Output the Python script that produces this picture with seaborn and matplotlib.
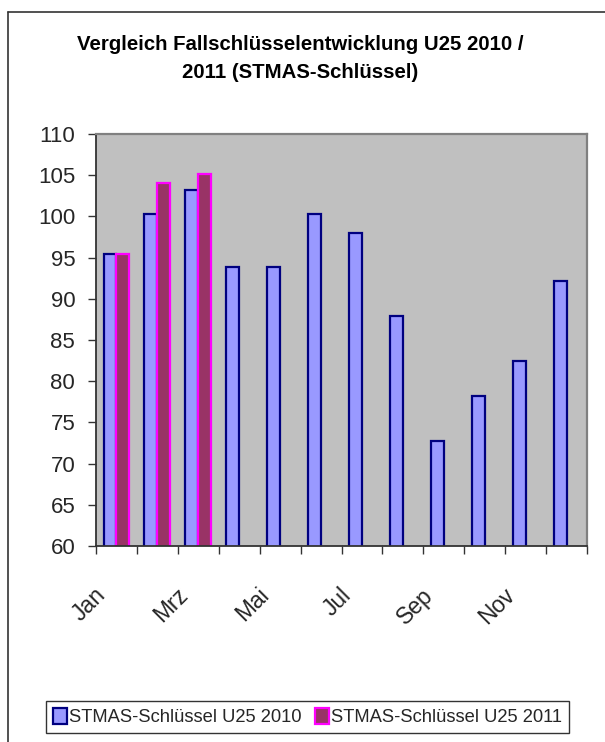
import matplotlib
matplotlib.use("Agg")
import matplotlib.pyplot as plt
import matplotlib.transforms as mtransforms
from matplotlib.lines import Line2D
import seaborn as sns
import pandas as pd
import numpy as np

months = ["Jan", "Feb", "Mrz", "Apr", "Mai", "Jun", "Jul", "Aug", "Sep", "Okt", "Nov", "Dez"]
values_2010 = [95.4, 100.3, 103.2, 93.8, 93.8, 100.3, 98.0, 87.9, 72.7, 78.2, 82.5, 92.2]
values_2011 = [95.4, 104.1, 105.1, np.nan, np.nan, np.nan, np.nan, np.nan, np.nan, np.nan, np.nan, np.nan]
series_names = ["STMAS-Schlüssel U25 2010", "STMAS-Schlüssel U25 2011"]
y_ticks = [60, 65, 70, 75, 80, 85, 90, 95, 100, 105, 110]

df = pd.DataFrame({
    "Monat": months * 2,
    "Wert": values_2010 + values_2011,
    "Serie": [series_names[0]] * 12 + [series_names[1]] * 12,
})

sns.set_theme(style="white")
plt.rcParams["font.family"] = ["Liberation Sans", "DejaVu Sans"]

fills = ["#9999FF", "#993366"]
edges = ["#000080", "#FF00FF"]

fig = plt.figure(figsize=(6.05, 7.42), dpi=100)
ax = fig.add_axes([96 / 605, (742 - 546) / 742, (587 - 96) / 605, (546 - 134) / 742])
ax.set_facecolor("#C0C0C0")

sns.barplot(data=df, x="Monat", y="Wert", hue="Serie", order=months,
            hue_order=series_names, palette=fills, width=0.63, dodge=True,
            legend=False, ax=ax, saturation=1)

for cont, ec in zip(ax.containers, edges):
    for bar in cont:
        bar.set_edgecolor(ec)
        bar.set_linewidth(1.6)

ax.set_ylim(60, 110)
ax.set_xlim(-0.5, 11.5)
ax.set_yticks(y_ticks)
ax.tick_params(axis="y", which="major", direction="out", length=6, width=1,
               color="#333333", pad=9, labelsize=16, left=True)

# x: boundary tick marks, labels on every other category
ax.set_xticks(np.arange(-0.5, 12, 1.0))
ax.set_xticklabels([])
ax.set_xticks(np.arange(0, 12, 2), minor=True)
ax.set_xticklabels([months[i] for i in range(0, 12, 2)], minor=True,
                   rotation=45, ha="right", va="top")
ax.tick_params(axis="x", which="major", direction="out", length=6, width=1,
               color="#333333", bottom=True)
ax.tick_params(axis="x", which="minor", length=0, pad=27, labelsize=16.5)
offset = mtransforms.ScaledTranslation(-6 / 100, 0, fig.dpi_scale_trans)
for lab in ax.get_xticklabels(minor=True):
    lab.set_transform(lab.get_transform() + offset)

ax.set_xlabel("")
ax.set_ylabel("")

for s in ["left", "bottom"]:
    ax.spines[s].set_color("#333333")
    ax.spines[s].set_linewidth(1.3)
for s in ["top", "right"]:
    ax.spines[s].set_color("#808080")
    ax.spines[s].set_linewidth(1.6)

fig.text(300 / 605, 1 - 45 / 742, "Vergleich Fallschlüsselentwicklung U25 2010 /",
         ha="center", va="center", fontsize=14.7, fontweight="bold", color="black")
fig.text(300 / 605, 1 - 72 / 742, "2011 (STMAS-Schlüssel)",
         ha="center", va="center", fontsize=14.7, fontweight="bold", color="black")

# chart-area border (left and top)
fig.add_artist(Line2D([8 / 605, 8 / 605], [0, 1 - 12 / 742], transform=fig.transFigure,
                      color="#333333", lw=1.2))
fig.add_artist(Line2D([8 / 605, 1.0], [1 - 12 / 742, 1 - 12 / 742], transform=fig.transFigure,
                      color="#333333", lw=1.2))

handles = [ax.containers[0][0], ax.containers[1][0]]
leg = fig.legend(handles, series_names, loc="center",
                 bbox_to_anchor=(307.5 / 605, 1 - 717 / 742), ncol=2,
                 fontsize=13.2, frameon=True, fancybox=False, shadow=False,
                 handlelength=0.77, handleheight=1.0, handletextpad=0.12,
                 columnspacing=0.75, borderpad=0.35, borderaxespad=0)
leg.get_frame().set_edgecolor("black")
leg.get_frame().set_linewidth(1.0)

fig.savefig("out.png", dpi=100, facecolor="white")
